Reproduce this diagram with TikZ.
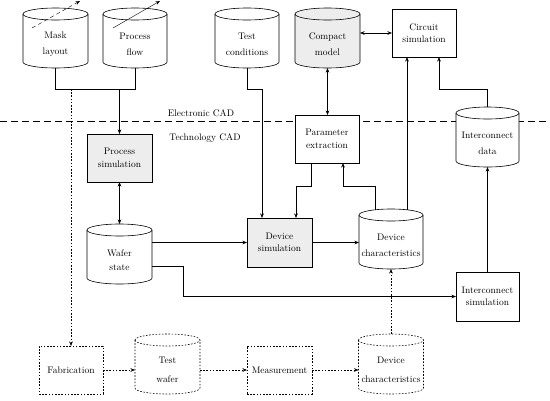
\documentclass[tikz,border=0pt]{standalone}
\usetikzlibrary{arrows.meta,backgrounds}
\newcommand\drawcyl[3]{%
  \draw[line width=0.6pt,#3] ([yshift=6pt]#1.north west) -- ([yshift=6pt]#1.south west)
    arc[start angle=180,end angle=360,x radius=#2,y radius=6pt]
    -- ([yshift=6pt]#1.north east)
    arc[start angle=0,end angle=180,x radius=#2,y radius=6pt] -- cycle;
  \draw[line width=0.6pt,#3,fill=none] ([yshift=6pt]#1.north west)
    arc[start angle=180,end angle=360,x radius=#2,y radius=6pt];}
\begin{document}
\begin{tikzpicture}[x=1pt,y=1pt,line width=0.6pt,
  every node/.style={font=\fontsize{9.5}{12.5}\selectfont, align=center, inner sep=0pt, outer sep=0pt},
  box/.style={draw,fill=white},
  graybox/.style={draw,fill=black!7},
  dotbox/.style={draw,fill=white,dots},
  cyl/.style={},
  dots/.style={dash pattern=on 1.6pt off 1.6pt},
  cadline/.style={line width=0.5pt,dash pattern=on 7pt off 4pt},
  arr/.style={-{Stealth[length=4.5pt,width=3.5pt,inset=1.5pt]}},
  darr/.style={{Stealth[length=4.5pt,width=3.5pt,inset=1.5pt]}-{Stealth[length=4.5pt,width=3.5pt,inset=1.5pt]}}]
\useasboundingbox (0,0) rectangle (550,-400);

% cylinders (body between bottom of top ellipse and bottom of cylinder)
\node[cyl,minimum width=65pt,minimum height=48pt] (mask) at (55.5,-44) {Mask\\[3.5pt]layout};
\node[cyl,minimum width=64pt,minimum height=48pt] (pflow) at (135,-44) {Process\\[3.5pt]flow};
\node[cyl,minimum width=64pt,minimum height=48pt] (tcond) at (247,-44) {Test\\[3.5pt]conditions};
\node[cyl,minimum width=65pt,minimum height=48pt] (compact) at (327.5,-44) {Compact\\[3.5pt]model};
\node[cyl,minimum width=63pt,minimum height=48pt] (idata) at (487.5,-143) {Interconnect\\[3.5pt]data};
\node[cyl,minimum width=65pt,minimum height=48pt] (wafer) at (119.5,-260) {Wafer\\[2pt]state};
\node[cyl,minimum width=64pt,minimum height=48pt] (dchar) at (391,-245) {Device\\[3.5pt]characteristics};
\node[cyl,minimum width=65pt,minimum height=48pt] (twafer) at (167.5,-370) {Test\\[6pt]wafer};
\node[cyl,minimum width=65pt,minimum height=48pt] (dchar2) at (391,-370) {Device\\[6pt]characteristics};

% boxes
\node[box,minimum width=64pt,minimum height=48pt] (circ) at (424,-33) {Circuit\\simulation};
\node[graybox,minimum width=65pt,minimum height=48pt] (psim) at (119.5,-158) {Process\\simulation};
\node[box,minimum width=64pt,minimum height=48pt] (param) at (327,-139) {Parameter\\extraction};
\node[graybox,minimum width=65pt,minimum height=49pt] (dsim) at (279.5,-242.5) {Device\\simulation};
\node[box,minimum width=63pt,minimum height=49pt] (isim) at (487.5,-296.5) {Interconnect\\simulation};
\node[dotbox,minimum width=64pt,minimum height=48pt] (fab) at (71,-370) {Fabrication};
\node[dotbox,minimum width=65pt,minimum height=48pt] (meas) at (279.5,-370) {Measurement};

% labels
\node (ecad) at (201,-113) {Electronic CAD};
\node (tcad) at (205,-138) {Technology CAD};

\begin{pgfonlayer}{background}
  \draw[cadline] (0,-121.5) -- (550,-121.5);
  \drawcyl{mask}{32.5pt}{draw,fill=white}
  \drawcyl{pflow}{32pt}{draw,fill=white}
  \drawcyl{tcond}{32pt}{draw,fill=white}
  \drawcyl{compact}{32.5pt}{draw,fill=black!7}
  \drawcyl{idata}{31.5pt}{draw,fill=white}
  \drawcyl{wafer}{32.5pt}{draw,fill=white}
  \drawcyl{dchar}{32pt}{draw,fill=white}
  \drawcyl{twafer}{32.5pt}{draw,fill=white,dots}
  \drawcyl{dchar2}{32.5pt}{draw,fill=white,dots}
\end{pgfonlayer}

% edit marks on the input files
\coordinate (s1a) at (32,-28); \coordinate (s1b) at (80,-1);
\coordinate (s2a) at (113,-28); \coordinate (s2b) at (160,-1);
\draw[arr,dash pattern=on 4pt off 3pt] (s1a) -- (s1b);
\draw[arr] (s2a) -- (s2b);

% junctions
\coordinate (j1) at (119.5,-89);
\coordinate (j2) at (71,-89);
\draw (mask.south) -- ++(0,-21) -| (pflow.south);
\draw[arr] (j1) -- (psim.north);
\draw[arr,dots] (j2) -- (fab.north);

\draw[darr] (psim.south) -- ([yshift=12pt]wafer.north);
\draw[arr] (tcond.south) -- ++(0,-21) -| ([xshift=-17.5pt]dsim.north);
\draw[darr] (compact.south) -- (compact.south |- param.north);
\draw[darr] (circ.west -| compact.east) -- (circ.west);
\draw[arr] ([xshift=-16pt]param.south) -- ++(0,-23) -| ([xshift=16.5pt]dsim.north);
\draw[arr] ([xshift=-16pt,yshift=11.2pt]dchar.north) |- ([xshift=16pt,yshift=-23pt]param.south) -- ([xshift=16pt]param.south);
\draw[arr] ([xshift=16pt,yshift=11.2pt]dchar.north) -- ([xshift=-17pt]circ.south);
\draw[arr] ([yshift=12pt]idata.north) -- ++(0,18) -| ([xshift=15pt]circ.south);
\draw[arr] (isim.north) -- (idata.south);
\draw[arr] (dsim.west -| wafer.east) -- (dsim.west);
\draw[arr] ([yshift=-6pt]wafer.east) -- ++(31,0) |- (isim.west);
\draw[arr] (dsim.east) -- (dsim.east -| dchar.west);

% bottom row
\draw[arr,dots] (fab.east) -- (fab.east -| twafer.west);
\draw[arr,dots] (twafer.east) -- (meas.west);
\draw[arr,dots] (meas.east) -- (meas.east -| dchar2.west);
\draw[arr,dots] ([yshift=12pt]dchar2.north) -- (dchar.south);
\end{tikzpicture}
\end{document}
